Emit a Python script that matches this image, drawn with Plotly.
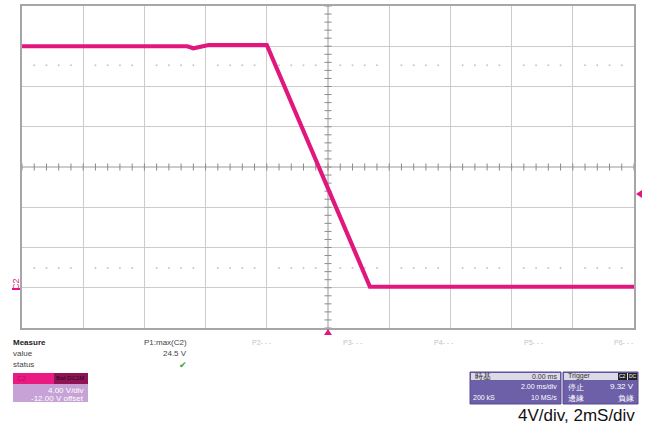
import plotly.graph_objects as go

W, H = 649, 427

# ---- data ----
time_ms = [-10.0, -4.6, -4.4, -4.2, -3.9, -2.0, 1.37, 10.0]
volts = [24.0, 24.0, 23.8, 23.95, 24.12, 24.12, 0.1, 0.1]
trigger_level = 9.32
trigger_time = 0.0
measure_label = "P1:max(C2)"
measure_value = "24.5 V"
level_hi = 22.1
level_lo = 1.96

TRACE = "#e2177e"
FONT = "Arial, Liberation Sans, sans-serif"

X0, X1 = 22, 634      # plot area in pixels
Y0, Y1 = 6, 328
XR = (-10, 10)
YR = (-4, 28)


def px(x):
    return x / W


def py(y):
    return 1 - y / H


def pix_x(t):
    return X0 + (t - XR[0]) / (XR[1] - XR[0]) * (X1 - X0)


def pix_y(v):
    return Y1 - (v - YR[0]) / (YR[1] - YR[0]) * (Y1 - Y0)


fig = go.Figure()

# faint dotted level rows
dots_x = [i * 0.4 - 10 for i in range(51) if (i % 5) != 0]
for lv in (level_hi, level_lo):
    fig.add_trace(go.Scatter(x=dots_x, y=[lv] * len(dots_x), mode="markers",
                             marker=dict(size=2, color="#c8c8c8"),
                             hoverinfo="skip", showlegend=False))

# minor ticks on centre cross
tx = [i * 0.4 - 10 for i in range(51)]
fig.add_trace(go.Scatter(x=tx, y=[12] * len(tx), mode="markers",
                         marker=dict(symbol="line-ns", size=5,
                                     line=dict(width=1, color="#8a8a8a")),
                         hoverinfo="skip", showlegend=False))
ty = [i * 0.8 - 4 for i in range(41)]
fig.add_trace(go.Scatter(x=[0] * len(ty), y=ty, mode="markers",
                         marker=dict(symbol="line-ew", size=5,
                                     line=dict(width=1, color="#8a8a8a")),
                         hoverinfo="skip", showlegend=False))

# waveform
fig.add_trace(go.Scatter(x=time_ms, y=volts, mode="lines",
                         line=dict(color=TRACE, width=4.2),
                         hoverinfo="skip", showlegend=False))

shapes = []
# centre cross lines
shapes.append(dict(type="line", xref="x", yref="y", x0=-10, x1=10, y0=12, y1=12,
                   line=dict(color="#9a9a9a", width=1), layer="below"))
shapes.append(dict(type="line", xref="x", yref="y", x0=0, x1=0, y0=-4, y1=28,
                   line=dict(color="#9a9a9a", width=1), layer="below"))


def tri(points):
    d = "M " + " L ".join("%f,%f" % (px(a), py(b)) for a, b in points) + " Z"
    shapes.append(dict(type="path", xref="paper", yref="paper", path=d,
                       fillcolor=TRACE, line=dict(width=0)))


# trigger level marker (right edge) and trigger time marker (bottom)
ty_pix = pix_y(trigger_level)
tri([(636, ty_pix), (642, ty_pix - 4), (642, ty_pix + 4)])
tx_pix = pix_x(trigger_time)
tri([(tx_pix, 329), (tx_pix - 4, 335), (tx_pix + 4, 335)])

# C2 channel box
shapes.append(dict(type="rect", xref="paper", yref="paper",
                   x0=px(13), x1=px(88), y0=py(402), y1=py(373),
                   fillcolor="#c7a2d6", line=dict(width=0)))
shapes.append(dict(type="rect", xref="paper", yref="paper",
                   x0=px(13), x1=px(54), y0=py(384), y1=py(373),
                   fillcolor="#ea1a82", line=dict(width=0)))
shapes.append(dict(type="rect", xref="paper", yref="paper",
                   x0=px(54), x1=px(88), y0=py(384), y1=py(373),
                   fillcolor="#8e1457", line=dict(width=0)))

# timebase and trigger boxes
for x0, x1 in ((470, 561), (563, 638)):
    shapes.append(dict(type="rect", xref="paper", yref="paper",
                       x0=px(x0), x1=px(x1), y0=py(404), y1=py(372),
                       fillcolor="#6d5fa8", line=dict(color="#5a4d92", width=1)))
    shapes.append(dict(type="rect", xref="paper", yref="paper",
                       x0=px(x0 + 1), x1=px(x1 - 1), y0=py(380), y1=py(373),
                       fillcolor="#dcdae6", line=dict(width=0)))
# C2 / DC badges
shapes.append(dict(type="rect", xref="paper", yref="paper",
                   x0=px(618), x1=px(627), y0=py(380), y1=py(373),
                   fillcolor="#222222", line=dict(width=0)))
shapes.append(dict(type="rect", xref="paper", yref="paper",
                   x0=px(628), x1=px(637), y0=py(380), y1=py(373),
                   fillcolor="#222222", line=dict(width=0)))
# C2 ground marker underline
shapes.append(dict(type="line", xref="paper", yref="paper",
                   x0=px(12), x1=px(20), y0=py(289), y1=py(289),
                   line=dict(color=TRACE, width=2)))

ann = []


def t(x, y, s, size=8, color="#333333", xanchor="left", bold=False, **kw):
    if bold:
        s = "<b>" + s + "</b>"
    ann.append(dict(x=px(x), y=py(y), xref="paper", yref="paper", text=s,
                    showarrow=False, xanchor=xanchor, yanchor="middle",
                    font=dict(family=FONT, size=size, color=color), **kw))


t(11, 342, "Measure", 8, "#222222", bold=True)
t(11, 353, "value", 8, "#444444")
t(11, 364, "status", 8, "#444444")
t(189, 342, measure_label, 8, "#444444", xanchor="right")
t(189, 353, measure_value, 8, "#444444", xanchor="right")
t(183, 365, "✔", 9, "#3aa43a", xanchor="center")
for i, xx in enumerate((250, 341, 432, 522, 612)):
    t(xx, 342, "P%d- - -" % (i + 2), 7, "#c4c4c4")

t(15, 378, "C2", 7, "#b01060")
t(86, 378, "Bwl DC1M", 6, "#2a0a1a", xanchor="right")
t(86, 390, "4.00 V/div", 8, "#ffffff", xanchor="right")
t(86, 398, "-12.00 V offset", 8, "#ffffff", xanchor="right")

t(473, 376, "時基", 8, "#222222")
t(559, 376, "0.00 ms", 7, "#333333", xanchor="right")
t(559, 386, "2.00 ms/div", 7, "#ffffff", xanchor="right")
t(471, 397, "200 kS", 7, "#ffffff")
t(559, 397, "10 MS/s", 7, "#ffffff", xanchor="right")

t(566, 376, "Trigger", 7, "#333333")
t(622.5, 376, "C2", 5, "#ffffff", xanchor="center")
t(632.5, 376, "DC", 5, "#ffffff", xanchor="center")
t(566, 387, "停止", 8, "#ffffff")
t(636, 386, "9.32 V", 8, "#ffffff", xanchor="right")
t(566, 398, "邊緣", 8, "#ffffff")
t(636, 398, "負緣", 8, "#ffffff", xanchor="right")

t(637, 415, "4V/div, 2mS/div", 17, "#111111", xanchor="right")
t(16, 284, "C2", 9, TRACE, xanchor="center", textangle=-90)

fig.update_layout(
    width=W, height=H,
    margin=dict(l=0, r=0, t=0, b=0),
    paper_bgcolor="white", plot_bgcolor="white",
    showlegend=False,
    shapes=shapes, annotations=ann,
    xaxis=dict(domain=[px(X0), px(X1)], range=list(XR), dtick=2, tick0=-10,
               showgrid=True, gridcolor="#cccccc", gridwidth=1,
               zeroline=False, showticklabels=False, ticks="",
               showline=True, mirror=True, linecolor="#a6a6a6", linewidth=2),
    yaxis=dict(domain=[py(Y1), py(Y0)], range=list(YR), dtick=4, tick0=-4,
               showgrid=True, gridcolor="#cccccc", gridwidth=1,
               zeroline=False, showticklabels=False, ticks="",
               showline=True, mirror=True, linecolor="#a6a6a6", linewidth=2),
)

fig.write_html("out.html", config={"displayModeBar": False},
               post_script="document.body.style.margin='0';document.body.style.overflow='hidden';")
